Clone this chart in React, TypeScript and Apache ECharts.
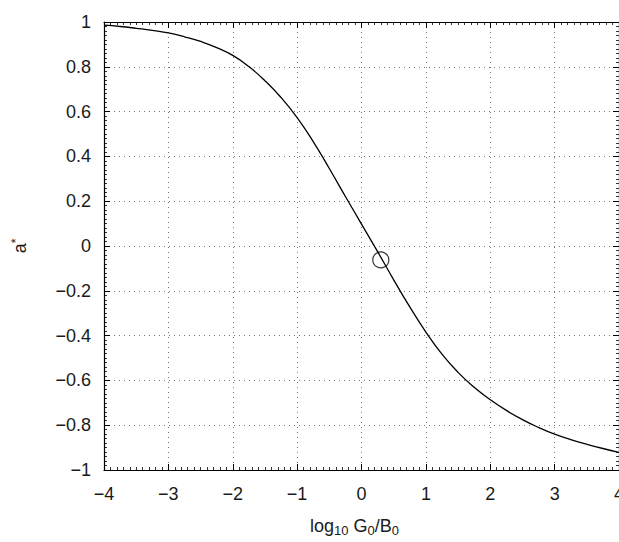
import React, { useEffect, useRef } from "react";
import * as echarts from "echarts";

const xValues = [-4, -3.75, -3.5, -3.25, -3, -2.75, -2.5, -2.25, -2, -1.75, -1.5, -1.25, -1, -0.75, -0.5, -0.25, 0, 0.25, 0.5, 0.75, 1, 1.25, 1.5, 1.75, 2, 2.25, 2.5, 2.75, 3, 3.25, 3.5, 3.75, 4];
const yValues = [0.986, 0.98, 0.972, 0.963, 0.951, 0.934, 0.913, 0.886, 0.851, 0.801, 0.738, 0.663, 0.573, 0.466, 0.346, 0.221, 0.098, -0.025, -0.151, -0.272, -0.384, -0.483, -0.564, -0.631, -0.686, -0.734, -0.775, -0.81, -0.84, -0.864, -0.885, -0.904, -0.921];
const markerPoint = [0.3, -0.062];
const xTicks = { min: -4, max: 4, interval: 1 };
const yTicks = { min: -1, max: 1, interval: 0.2 };

const fmt = (v: number) => {
  const r = Math.round(v * 10) / 10;
  const s = String(r === 0 ? 0 : r);
  return s.replace("-", "\u2212");
};

export default function App() {
  const ref = useRef<HTMLDivElement>(null);
  useEffect(() => {
    if (!ref.current) return;
    const chart = echarts.init(ref.current, undefined, { renderer: "svg" });
    const font = "Liberation Sans, Arial, Helvetica, sans-serif";
    const split = { show: true, lineStyle: { color: "#777", type: [1, 4] as any, width: 1 } };
    const axisLine = { show: true, onZero: false, lineStyle: { color: "#000", width: 1.2 } };
    const tick = { show: true, inside: true, length: 6, lineStyle: { color: "#000", width: 1 } };
    const minor = { show: true, splitNumber: 10, length: 3, lineStyle: { color: "#000", width: 0.8 } };
    const data = xValues.map((x, i) => [x, yValues[i]]);
    chart.setOption({
      animation: false,
      backgroundColor: "#fff",
      grid: { left: 104, width: 515, top: 22, height: 448, containLabel: false, outerBoundsMode: "none" },
      xAxis: [
        {
          type: "value", ...xTicks, position: "bottom",
          axisLine, axisTick: tick, minorTick: minor, splitLine: split,
          axisLabel: { formatter: fmt, color: "#1a1a1a", fontSize: 18, fontFamily: font, margin: 15 },
          name: "log{sub|10} G{sub|0}/B{sub|0}",
          nameLocation: "middle", nameGap: 45,
          nameTextStyle: {
            color: "#1a1a1a", fontSize: 18, fontFamily: font, lineHeight: 22, padding: [0, 14, 0, 0],
            rich: {
              sub: { fontSize: 13, fontFamily: font, color: "#1a1a1a", verticalAlign: "bottom", lineHeight: 14, padding: [8, 0, 0, 0] },
            },
          },
        },
        {
          type: "value", ...xTicks, position: "top",
          axisLine, axisTick: tick, minorTick: minor, splitLine: { show: false },
          axisLabel: { show: false },
        },
      ],
      yAxis: [
        {
          type: "value", ...yTicks, position: "left",
          axisLine, axisTick: tick, minorTick: minor, splitLine: split,
          axisLabel: { formatter: fmt, color: "#1a1a1a", fontSize: 18, fontFamily: font, margin: 13 },
          name: "a{sup|*}",
          nameLocation: "middle", nameGap: 74, nameRotate: 90,
          nameTextStyle: {
            color: "#1a1a1a", fontSize: 18, fontFamily: font, lineHeight: 20,
            rich: { sup: { fontSize: 12, fontFamily: font, color: "#1a1a1a", verticalAlign: "top", padding: [0, 0, 8, 0] } },
          },
        },
        {
          type: "value", ...yTicks, position: "right",
          axisLine, axisTick: tick, minorTick: minor, splitLine: { show: false },
          axisLabel: { show: false },
        },
      ],
      series: [
        {
          type: "line", data, smooth: 0.5, showSymbol: false, symbol: "none",
          lineStyle: { color: "#000", width: 1.3 }, xAxisIndex: 0, yAxisIndex: 0,
        },
        {
          type: "scatter", data: [markerPoint], symbol: "circle", symbolSize: 16,
          itemStyle: { color: "rgba(0,0,0,0)", borderColor: "#000", borderWidth: 1.2 },
          xAxisIndex: 0, yAxisIndex: 0,
        },
      ],
    });
    return () => chart.dispose();
  }, []);
  return <div ref={ref} style={{ position: "fixed", left: 0, top: 0, width: 619, height: 542 }} />;
}
